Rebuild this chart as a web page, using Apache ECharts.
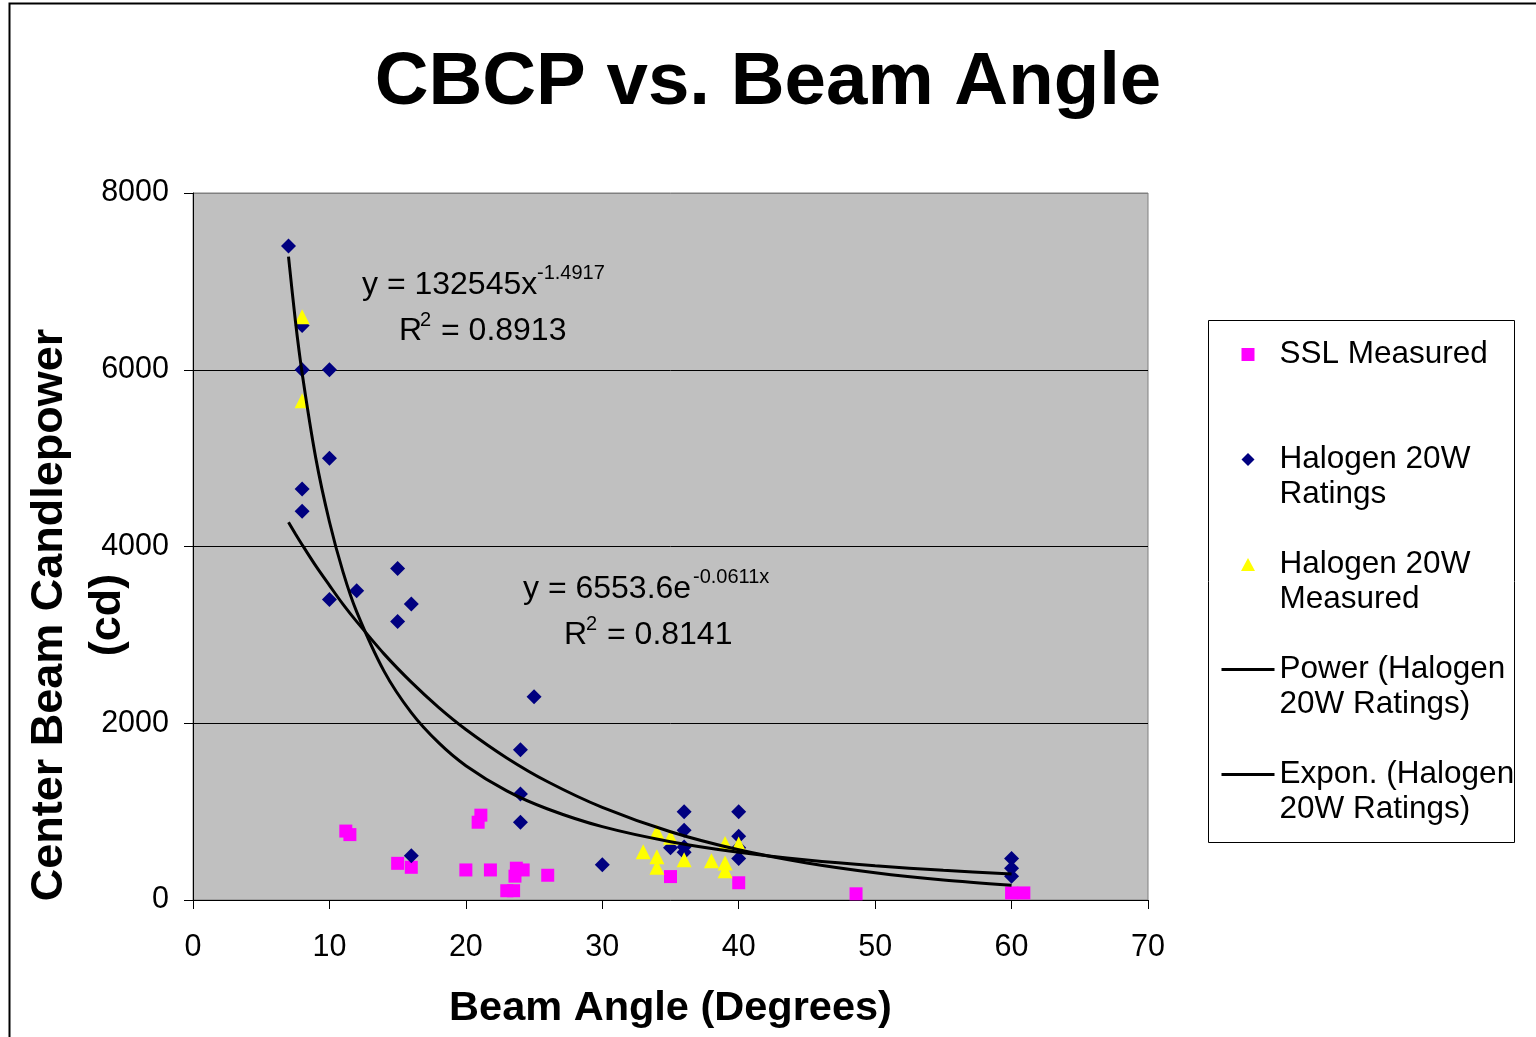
<!DOCTYPE html>
<html>
<head>
<meta charset="utf-8">
<script src="https://cdn.jsdelivr.net/npm/echarts@6/dist/echarts.min.js"></script>
<style>
html,body{margin:0;padding:0;background:#fff;}
#chart{width:1536px;height:1037px;}
</style>
</head>
<body>
<div id="chart"></div>
<script>
// ---- data ----
var xTicks = [0, 10, 20, 30, 40, 50, 60, 70];
var yTicks = [0, 2000, 4000, 6000, 8000];

var sslX = [11.2, 11.5, 15, 16, 20, 21.1, 20.9, 21.8, 23.7, 24.2, 23.6, 26, 23, 23.5, 35, 40, 48.6, 60, 60.9];
var sslY = [780, 740, 415, 370, 340, 960, 880, 340, 360, 340, 270, 280, 105, 105, 265, 195, 70, 80, 80];

var ratingX = [7, 8, 8, 10, 10, 8, 8, 10, 12, 15, 16, 15, 16, 25, 24, 24, 24, 30, 36, 36, 35, 36, 36, 40, 40, 40, 40, 60, 60, 60];
var ratingY = [7400, 6500, 6000, 6000, 5000, 4650, 4400, 3400, 3500, 3750, 3350, 3150, 500, 2300, 1700, 1200, 880, 400, 1000, 790, 590, 600, 540, 1000, 720, 590, 470, 470, 360, 270];

var measX = [8, 8, 34, 35, 33, 34, 34, 36, 38, 39, 39, 39, 40];
var measY = [6600, 5650, 770, 710, 545, 490, 370, 455, 445, 640, 420, 330, 635];

var trendX = [7, 7.5, 8, 9, 10, 11, 12, 14, 16, 18, 20, 23, 26, 30, 35, 40, 45, 50, 55, 60];
var powerY = [7280, 6560, 5960, 5000, 4280, 3710, 3260, 2590, 2120, 1780, 1520, 1235, 1030, 830, 660, 540, 453, 387, 336, 295];
var exponY = [4275, 4145, 4020, 3780, 3560, 3345, 3150, 2785, 2465, 2180, 1930, 1608, 1338, 1048, 772, 568, 419, 309, 227, 168];

var seriesNames = ['SSL Measured', 'Halogen 20W Ratings', 'Halogen 20W Measured', 'Power (Halogen 20W Ratings)', 'Expon. (Halogen 20W Ratings)'];
var legendLabels = [' \nSSL Measured\n ', ' \nHalogen 20W\nRatings', ' \nHalogen 20W\nMeasured', ' \nPower (Halogen\n20W Ratings)', ' \nExpon. (Halogen\n20W Ratings)'];

function pairs(xs, ys) { return xs.map(function (x, i) { return [x, ys[i]]; }); }

var FONT = '"Liberation Sans", Arial, sans-serif';
var chart = echarts.init(document.getElementById('chart'), null, {renderer: 'canvas'});

function txt(x, y, s, size) {
  return {type: 'text', silent: true, z: 10, x: x, y: y,
    style: {text: s, fontFamily: FONT, fontSize: size, fill: '#000', verticalAlign: 'middle'}};
}

// legend icons: small marker centred in the 53x13 icon box
var iconSquare = 'path://M0,0 M53,13 M20,0 L33,0 L33,13 L20,13 Z';
var iconDiamond = 'path://M0,0 M53,13 M26.5,0 L33,6.5 L26.5,13 L20,6.5 Z';
var iconTriangle = 'path://M0,0 M53,13 M26.5,0 L33.5,13 L19.5,13 Z';

var option = {
  animation: false,
  backgroundColor: '#ffffff',
  title: {
    text: 'CBCP vs. Beam Angle',
    left: 'center',
    top: 46,
    padding: 0,
    textStyle: {fontFamily: FONT, fontSize: 74.5, fontWeight: 'bold', color: '#000'}
  },
  grid: {
    left: 193, top: 193, right: 388, bottom: 137,
    show: true, backgroundColor: '#C0C0C0', borderColor: '#808080', borderWidth: 1
  },
  xAxis: {
    type: 'value', min: xTicks[0], max: xTicks[xTicks.length - 1], interval: 10,
    name: 'Beam Angle (Degrees)', nameLocation: 'middle', nameGap: 88,
    nameTextStyle: {fontFamily: FONT, fontSize: 41.5, fontWeight: 'bold', color: '#000'},
    axisLine: {lineStyle: {color: '#000', width: 1}},
    axisTick: {show: true, inside: false, length: 9, lineStyle: {color: '#000'}},
    axisLabel: {fontFamily: FONT, fontSize: 30.5, color: '#000', margin: 32},
    splitLine: {show: false}
  },
  yAxis: {
    type: 'value', min: yTicks[0], max: yTicks[yTicks.length - 1], interval: 2000,
    axisLine: {show: true, lineStyle: {color: '#000', width: 1}},
    axisTick: {show: true, inside: false, length: 9, lineStyle: {color: '#000'}},
    axisLabel: {fontFamily: FONT, fontSize: 30.5, color: '#000', margin: 24,
      formatter: function (v) { return String(v); }},
    splitLine: {show: true, lineStyle: {color: ['#808080', '#000', '#000', '#000', '#808080'], width: 1}}
  },
  legend: {
    orient: 'vertical',
    left: 1220,
    top: 302,
    padding: 0,
    itemGap: 0,
    itemWidth: 53,
    itemHeight: 13,
    lineStyle: {width: 3},
    data: [
      {name: seriesNames[0], icon: iconSquare},
      {name: seriesNames[1], icon: iconDiamond},
      {name: seriesNames[2], icon: iconTriangle},
      {name: seriesNames[3]},
      {name: seriesNames[4]}
    ],
    formatter: function (name) { return legendLabels[seriesNames.indexOf(name)]; },
    textStyle: {fontFamily: FONT, fontSize: 31.5, color: '#000', lineHeight: 35}
  },
  graphic: [
    {type: 'rect', silent: true, z: -1,
      shape: {x: 9.5, y: 3.5, width: 1540, height: 1050},
      style: {fill: 'none', stroke: '#000', lineWidth: 2}},
    {type: 'rect', silent: true,
      shape: {x: 1208.5, y: 320.5, width: 306, height: 522},
      style: {fill: 'none', stroke: '#000', lineWidth: 1}},
    {type: 'text', silent: true, x: 79, y: 615, rotation: Math.PI / 2,
      style: {text: 'Center Beam Candlepower\n(cd)', fontFamily: FONT, fontSize: 45, fontWeight: 'bold',
        lineHeight: 58, fill: '#000', align: 'center', verticalAlign: 'middle'}},
    txt(362, 285, 'y = 132545x', 32),
    txt(537, 273, '-1.4917', 20),
    txt(399, 331, 'R', 32),
    txt(420, 320, '2', 20),
    txt(441, 331, '= 0.8913', 32),
    txt(523, 589, 'y = 6553.6e', 32),
    txt(693, 577, '-0.0611x', 20),
    txt(564, 635, 'R', 32),
    txt(586, 624, '2', 20),
    txt(607, 635, '= 0.8141', 32)
  ],
  series: [
    {name: seriesNames[0], type: 'scatter', symbol: 'rect', symbolSize: 13,
      itemStyle: {color: '#FF00FF', opacity: 1}, data: pairs(sslX, sslY)},
    {name: seriesNames[1], type: 'scatter', symbol: 'diamond', symbolSize: 15,
      itemStyle: {color: '#000080', opacity: 1}, data: pairs(ratingX, ratingY)},
    {name: seriesNames[2], type: 'scatter', symbol: 'triangle', symbolSize: 15,
      itemStyle: {color: '#FFFF00', opacity: 1}, data: pairs(measX, measY)},
    {name: seriesNames[3], type: 'line', smooth: 0.3, symbol: 'none', showSymbol: false,
      lineStyle: {color: '#000', width: 3},
      itemStyle: {color: 'rgba(0,0,0,0)', borderWidth: 0, opacity: 0}, z: 5, data: pairs(trendX, powerY)},
    {name: seriesNames[4], type: 'line', smooth: 0.3, symbol: 'none', showSymbol: false,
      lineStyle: {color: '#000', width: 3},
      itemStyle: {color: 'rgba(0,0,0,0)', borderWidth: 0, opacity: 0}, z: 5, data: pairs(trendX, exponY)}
  ]
};
chart.setOption(option);
</script>
</body>
</html>
